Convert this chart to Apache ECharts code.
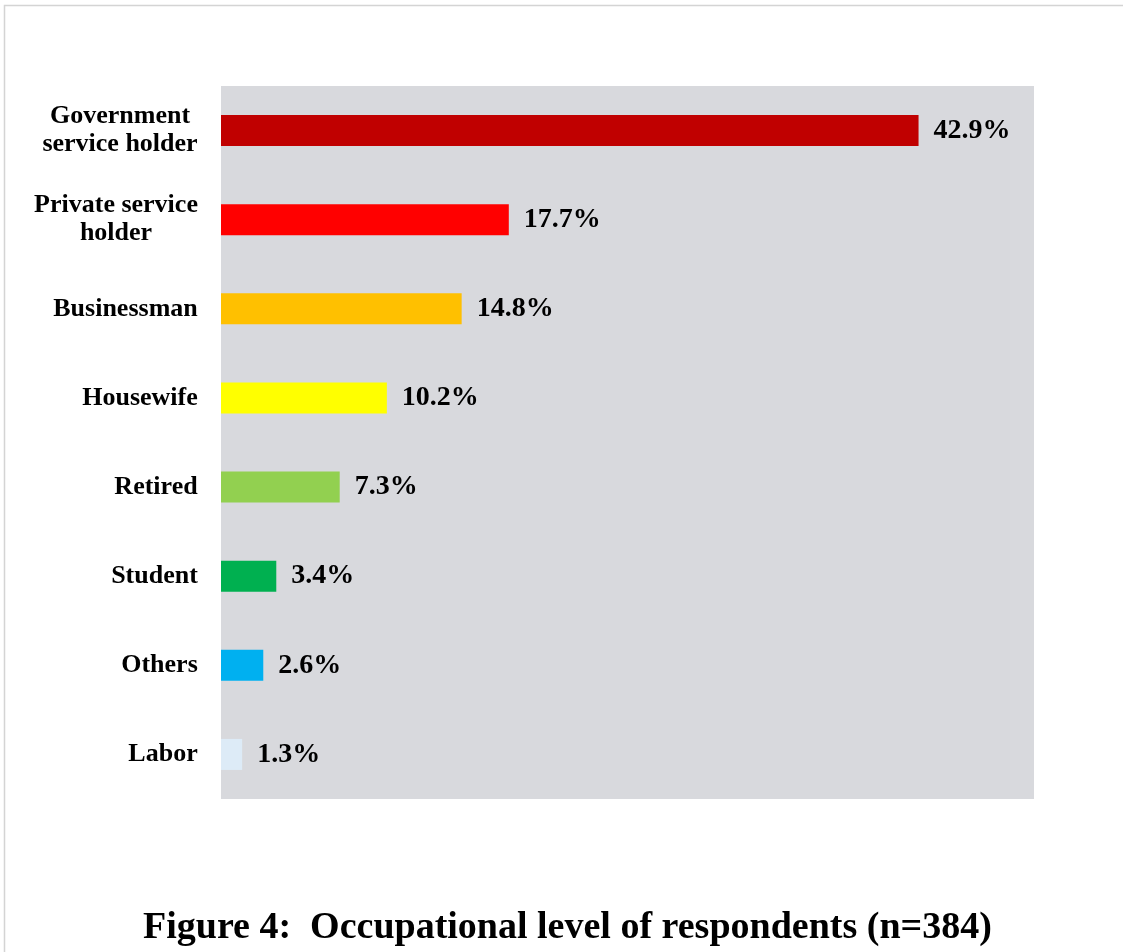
<!DOCTYPE html>
<html>
<head>
<meta charset="utf-8">
<script src="https://cdn.jsdelivr.net/npm/echarts@6/dist/echarts.min.js"></script>
<style>
  html, body { margin: 0; padding: 0; background: #ffffff; }
  #chart { width: 1123px; height: 952px; }
</style>
</head>
<body>
<div id="chart"></div>
<script>
// Occupation categories, top to bottom
const categories = [
  'Government\nservice holder',
  'Private service\nholder',
  'Businessman',
  'Housewife',
  'Retired',
  'Student',
  'Others',
  'Labor'
];
// Share of respondents (%)
const percentages = [42.9, 17.7, 14.8, 10.2, 7.3, 3.4, 2.6, 1.3];
// One fill per bar
const barColors = ['#C00000', '#FF0000', '#FFC000', '#FFFF00', '#92D050', '#00B050', '#00B0F0', '#DDEBF7'];
const captionText = 'Figure 4:  Occupational level of respondents (n=384)';

const serif = '"Liberation Serif", "Times New Roman", serif';
const labelFont = 'bold 26px ' + serif;

// Measure text so two-line labels can be centred line by line
const measureCtx = document.createElement('canvas').getContext('2d');
measureCtx.font = labelFont;
function widest(label) {
  return Math.max(...label.split('\n').map(s => measureCtx.measureText(s).width));
}
const richStyles = {};
categories.forEach((c, i) => {
  richStyles['c' + i] = {
    width: Math.ceil(widest(c)),
    align: 'center',
    color: '#000000',
    fontFamily: serif,
    fontWeight: 'bold',
    fontSize: 26,
    lineHeight: 28
  };
});

const chart = echarts.init(document.getElementById('chart'), null, { renderer: 'canvas' });

chart.setOption({
  backgroundColor: '#ffffff',
  animation: false,
  grid: {
    left: 221, top: 86, width: 813, height: 713,
    show: true, backgroundColor: '#D8D9DD', borderWidth: 0,
    containLabel: false
  },
  xAxis: {
    type: 'value', min: 0, max: 50,
    show: false
  },
  yAxis: {
    type: 'category',
    data: categories,
    inverse: true,
    axisLine: { show: false },
    axisTick: { show: false },
    splitLine: { show: false },
    axisLabel: {
      margin: 23,
      align: 'right',
      formatter: (value, idx) =>
        value.split('\n').map(s => '{c' + idx + '|' + s + '}').join('\n'),
      rich: richStyles
    }
  },
  series: [{
    type: 'bar',
    data: percentages.map((v, i) => ({ value: v, itemStyle: { color: barColors[i] } })),
    barWidth: 31,
    label: {
      show: true,
      position: 'right',
      distance: 15,
      color: '#000000',
      fontFamily: serif,
      fontWeight: 'bold',
      fontSize: 28,
      formatter: p => p.value.toFixed(1) + '%'
    }
  }],
  graphic: [
    {
      type: 'rect',
      shape: { x: 4.5, y: 5.5, width: 1300, height: 1100 },
      style: { fill: 'none', stroke: '#D4D4D4', lineWidth: 1.5 },
      silent: true
    },
    {
      type: 'text',
      left: 143,
      top: 909,
      style: {
        text: captionText,
        fill: '#000000',
        font: 'bold 38px ' + serif
      }
    }
  ]
});
</script>
</body>
</html>
